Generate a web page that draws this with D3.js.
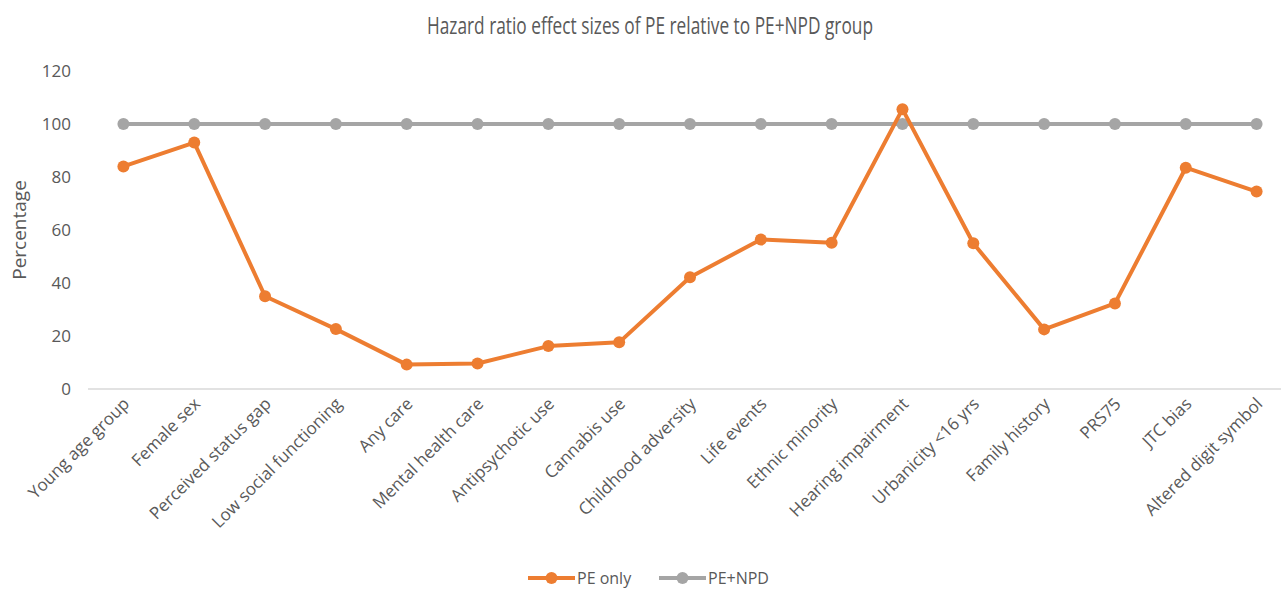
<!DOCTYPE html>
<html>
<head>
<meta charset="utf-8">
<script src="https://cdn.jsdelivr.net/npm/d3@7"></script>
<style>
  body { margin: 0; background: #fff; }
  text { font-family: "Open Sans", sans-serif; fill: #595959; }
</style>
</head>
<body>
<script>
const width = 1281;
const height = 590;

const categories = [
  "Young age group", "Female sex", "Perceived status gap", "Low social functioning",
  "Any care", "Mental health care", "Antipsychotic use", "Cannabis use",
  "Childhood adversity", "Life events", "Ethnic minority", "Hearing impairment",
  "Urbanicity <16 yrs", "Family history", "PRS75", "JTC bias", "Altered digit symbol"
];
const peOnly = [84, 93, 35, 22.6, 9.2, 9.6, 16.2, 17.6, 42.2, 56.4, 55.2, 105.6, 55, 22.5, 32.3, 83.5, 74.5];
const peNpd = [100, 100, 100, 100, 100, 100, 100, 100, 100, 100, 100, 100, 100, 100, 100, 100, 100];
const yTicks = [0, 20, 40, 60, 80, 100, 120];

const series = [
  { name: "PE only", values: peOnly, color: "#ED7D31" },
  { name: "PE+NPD", values: peNpd, color: "#A5A5A5" }
];

const svg = d3
  .select("body")
  .append("svg")
  .attr("width", width)
  .attr("height", height);

const x = d3.scaleBand().domain(categories).range([88, 1292]);
const y = d3.scaleLinear().domain([0, 120]).range([389, 71]);

// title
svg
  .append("text")
  .attr("x", 650)
  .attr("y", 34)
  .attr("text-anchor", "middle")
  .attr("font-size", 23)
  .attr("textLength", 446)
  .attr("lengthAdjust", "spacingAndGlyphs")
  .text("Hazard ratio effect sizes of PE relative to PE+NPD group");

// y axis labels
const yAxis = svg
  .append("g")
  .attr("transform", "translate(71,0)")
  .call(d3.axisLeft(y).tickValues(yTicks).tickSize(0).tickPadding(0));
yAxis.select(".domain").remove();
yAxis.selectAll("text").attr("font-size", 17).attr("fill", "#595959").attr("font-family", "Open Sans");

svg
  .append("text")
  .attr("transform", "translate(26,230) rotate(-90)")
  .attr("text-anchor", "middle")
  .attr("font-size", 19)
  .text("Percentage");

// x axis line
svg
  .append("line")
  .attr("x1", 88)
  .attr("x2", width)
  .attr("y1", y(0))
  .attr("y2", y(0))
  .attr("stroke", "#d9d9d9")
  .attr("stroke-width", 1.5);

// x labels
svg
  .append("g")
  .selectAll("text")
  .data(categories)
  .join("text")
  .attr("text-anchor", "end")
  .attr("font-size", 17)
  .attr("transform", (d) => `translate(${x(d) + x.bandwidth() / 2 + 7},405) rotate(-45)`)
  .text((d) => d);

const cx = (d, i) => x(categories[i]) + x.bandwidth() / 2;
const line = d3
  .line()
  .x((d, i) => cx(d, i))
  .y((d) => y(d));

// draw PE+NPD first, PE only on top
[series[1], series[0]].forEach((s) => {
  const g = svg.append("g");
  g.append("path")
    .attr("d", line(s.values))
    .attr("fill", "none")
    .attr("stroke", s.color)
    .attr("stroke-width", 4)
    .attr("stroke-linejoin", "round");
  g.selectAll("circle")
    .data(s.values)
    .join("circle")
    .attr("cx", (d, i) => cx(d, i))
    .attr("cy", (d) => y(d))
    .attr("r", 6)
    .attr("fill", s.color);
});

// legend
const legendX = [528, 659];
series.forEach((s, i) => {
  const lg = svg.append("g").attr("transform", `translate(${legendX[i]},578)`);
  lg.append("line")
    .attr("x1", 0)
    .attr("x2", 47)
    .attr("stroke", s.color)
    .attr("stroke-width", 4);
  lg.append("circle").attr("cx", 23.5).attr("r", 6).attr("fill", s.color);
  lg.append("text")
    .attr("x", 49)
    .attr("y", 6)
    .attr("font-size", 16)
    .text(s.name);
});
</script>
</body>
</html>
